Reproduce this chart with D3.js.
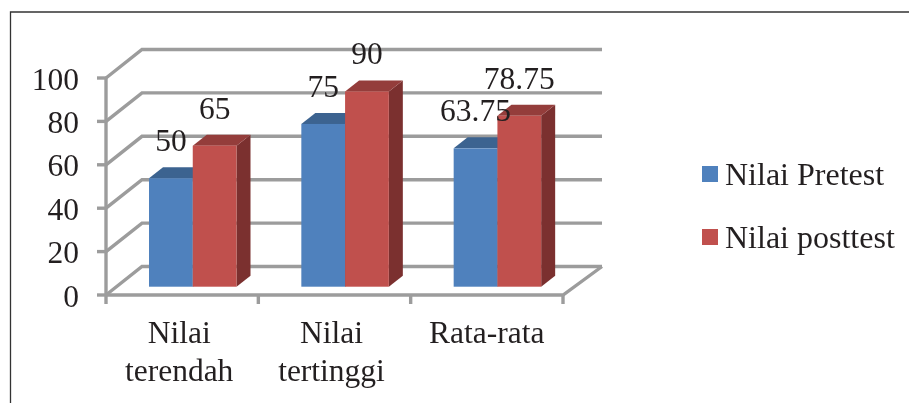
<!DOCTYPE html>
<html>
<head>
<meta charset="utf-8">
<script src="https://cdn.jsdelivr.net/npm/d3@7"></script>
<style>
	html, body { margin: 0; padding: 0; background: #fff; }
	svg { display: block; filter: blur(0.35px); }
	text { font-family: "Liberation Serif", serif; fill: #231f20; }
</style>
</head>
<body>
<svg width="909" height="403"></svg>
<script>
// Data
var categories = [["Nilai", "terendah"], ["Nilai", "tertinggi"], ["Rata-rata"]];
var seriesNames = ["Nilai Pretest", "Nilai posttest"];
var pretest = [50, 75, 63.75];
var posttest = [65, 90, 78.75];
var yTicks = [0, 20, 40, 60, 80, 100];

var seriesValues = [pretest, posttest];
var frontColors = ["#4f81bd", "#c0504d"];
var topColors = ["#3c6390", "#943d3b"];
var sideColors = ["#2f4f74", "#7b302f"];
var gridColor = "#9c9c9c";

var svg = d3.select("svg");
var fontSize = 31.5;

// Frame
svg.append("path")
	.attr("d", "M10.5,403V12H909")
	.attr("fill", "none")
	.attr("stroke", "#333")
	.attr("stroke-width", 1.3);

// Scales: front plane of the box, depth offset for the back wall
var xScale = d3.scaleBand().domain(d3.range(categories.length)).range([106, 563]);
var yScale = d3.scaleLinear().domain([0, 100]).range([295, 78]);
var inner = d3.scaleBand().domain(d3.range(seriesNames.length)).range([43, 130.5]);
var wallDx = 36, wallDy = -28.5;
var barFloor = yScale(0) - 8.3;
var barDx = 14, barDy = -11;
var right = xScale.range()[1];

var walls = svg.append("g")
	.attr("fill", "none")
	.attr("stroke", gridColor)
	.attr("stroke-width", 3.4);

// Gridlines on side and back wall
yTicks.forEach(function(t){
	var y = yScale(t);
	walls.append("path")
		.attr("d", "M106," + y + "L" + (106 + wallDx) + "," + (y + wallDy) + "H" + (right + wallDx + 3));
});

// Floor and axes
walls.append("path")
	.attr("d", "M" + (right + wallDx + 3) + "," + (yScale(0) + wallDy) + "L" + right + "," + yScale(0) + "H106");
walls.append("path")
	.attr("d", "M106," + yScale(100) + "V" + (yScale(0) + 9));
yTicks.forEach(function(t){
	walls.append("path").attr("d", "M97," + yScale(t) + "H106");
});
d3.range(1, categories.length + 1).forEach(function(i){
	var x = i < categories.length ? xScale(i) : right;
	walls.append("path").attr("d", "M" + x + "," + yScale(0) + "V" + (yScale(0) + 9));
});

// Value axis labels
svg.append("g").selectAll("text")
	.data(yTicks)
	.enter().append("text")
	.attr("x", 79)
	.attr("y", d => yScale(d) + 11.5)
	.attr("text-anchor", "end")
	.attr("font-size", fontSize)
	.text(d => d);

// Category labels, the two line ones sit a little left of the band centre
var catLabels = svg.append("g").selectAll("text")
	.data(categories)
	.enter().append("text")
	.attr("text-anchor", "middle")
	.attr("font-size", fontSize);
catLabels.selectAll("tspan")
	.data((d, i) => d.map(line => ({ line: line, i: i, lines: d.length })))
	.enter().append("tspan")
	.attr("x", d => xScale(d.i) + xScale.bandwidth() / 2 - (d.lines > 1 ? 3 : 0))
	.attr("y", (d, j) => 343 + j * 37.5)
	.text(d => d.line);

// 3D bars
var barHeight = d => yScale(0) - yScale(d);
seriesValues.forEach(function(values, s){
	var g = svg.append("g");
	values.forEach(function(v, c){
		var x0 = xScale(c) + inner(s);
		var x1 = x0 + inner.bandwidth();
		var top = barFloor - barHeight(v);
		g.append("path")
			.attr("d", "M" + x1 + "," + top + "l" + barDx + "," + barDy + "V" + (barFloor + barDy) + "L" + x1 + "," + barFloor + "Z")
			.attr("fill", sideColors[s]);
		g.append("path")
			.attr("d", "M" + x0 + "," + top + "l" + barDx + "," + barDy + "H" + (x1 + barDx) + "L" + x1 + "," + top + "Z")
			.attr("fill", topColors[s]);
		g.append("rect")
			.attr("x", x0)
			.attr("y", top)
			.attr("width", inner.bandwidth())
			.attr("height", barHeight(v))
			.attr("fill", frontColors[s]);
	});
});

// Value labels
seriesValues.forEach(function(values, s){
	svg.append("g").selectAll("text")
		.data(values)
		.enter().append("text")
		.attr("x", (d, c) => xScale(c) + inner(s) + inner.bandwidth() / 2)
		.attr("y", d => barFloor - barHeight(d) - 27)
		.attr("text-anchor", "middle")
		.attr("font-size", fontSize)
		.text(d => d);
});

// Legend
var legend = svg.append("g").selectAll("g")
	.data(seriesNames)
	.enter().append("g")
	.attr("transform", (d, i) => "translate(702," + (174 + i * 63) + ")");
legend.append("rect")
	.attr("y", -8)
	.attr("width", 16)
	.attr("height", 16)
	.attr("fill", (d, i) => frontColors[i]);
legend.append("text")
	.attr("x", 23)
	.attr("y", 11)
	.attr("font-size", 32)
	.text(d => d);
</script>
</body>
</html>
